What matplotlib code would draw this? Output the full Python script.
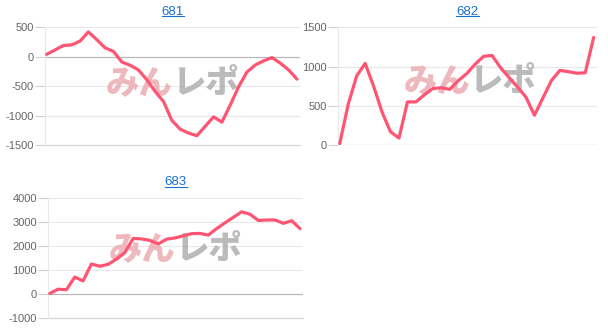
"""Three small balance charts (681/682/683) in the light web-widget style."""

import matplotlib

matplotlib.use("Agg")
import matplotlib.pyplot as plt
import numpy as np

LINE_COLOR = "#ff5573"
TITLE_COLOR = "#1a6fcf"
TICK_COLOR = "#666666"
GRID_COLOR = "#e8e8e8"
ZERO_COLOR = "#b8b8b8"

titles = ["681", "682", "683"]

values_681 = [40, 114, 190, 200, 265, 420, 290, 150, 90, -90, -145, -225, -390,
              -590, -760, -1080, -1230, -1295, -1340, -1180, -1020, -1110, -820,
              -510, -260, -140, -70, -15, -110, -225, -380]
values_682 = [20, 520, 880, 1040, 750, 420, 170, 90, 550, 550, 640, 720, 730,
              710, 820, 910, 1030, 1130, 1140, 985, 860, 740, 610, 380, 600, 820,
              950, 935, 915, 920, 1370]
values_683 = [14, 195, 170, 700, 540, 1245, 1150, 1230, 1450, 1720, 2310, 2290,
              2230, 2080, 2280, 2330, 2420, 2510, 2520, 2450, 2720, 2960, 3190,
              3420, 3320, 3060, 3080, 3080, 2940, 3050, 2715]

yticks_681 = [-1500, -1000, -500, 0, 500]
yticks_682 = [0, 500, 1000, 1500]
yticks_683 = [-1000, 0, 1000, 2000, 3000, 4000]

# left, bottom, width, height in figure fractions (608x336 px)
PANELS = [
    (values_681, yticks_681, (0.074, 0.568, 0.420, 0.351), 0.49, 0.53),
    (values_682, yticks_682, (0.556, 0.568, 0.426, 0.351), 0.50, 0.55),
    (values_683, yticks_683, (0.079, 0.054, 0.420, 0.357), 0.49, 0.58),
]

plt.rcParams["font.family"] = ["Liberation Sans", "DejaVu Sans"]

fig = plt.figure(figsize=(6.08, 3.36), dpi=100, facecolor="white")

for title, (vals, ticks, rect, wx, wy) in zip(titles, PANELS):
    ax = fig.add_axes(rect)
    x = np.arange(len(vals))
    ax.set_xlim(-0.2, len(vals) - 0.6)
    ax.set_ylim(ticks[0], ticks[-1])
    ax.set_yticks(ticks)
    ax.set_yticklabels([str(t) for t in ticks])
    ax.set_xticks([])
    for s in ("top", "right", "bottom"):
        ax.spines[s].set_visible(False)
    ax.spines["left"].set_color(GRID_COLOR)
    ax.tick_params(axis="y", colors="#d0d0d0", labelcolor=TICK_COLOR,
                   labelsize=8, length=7, width=0.8, pad=1)
    for t in ticks:
        if t == 0:
            ax.axhline(0, color=ZERO_COLOR, lw=0.9, zorder=1)
        elif t == ticks[0]:
            ax.axhline(t, color="#d6d6d6", lw=0.9, zorder=1, clip_on=False)
        else:
            ax.axhline(t, color=GRID_COLOR, lw=0.8, zorder=1)

    # watermark
    ax.text(wx + 0.01, wy, "みん", transform=ax.transAxes, ha="right", va="center",
            fontsize=24, fontweight="heavy", color="#eaa8ae", alpha=0.8,
            family=["Noto Sans CJK JP", "DejaVu Sans"], zorder=2)
    ax.text(wx + 0.01, wy, "レポ", transform=ax.transAxes, ha="left", va="center",
            fontsize=24, fontweight="heavy", color="#aaaaaa", alpha=0.8,
            family=["Noto Sans CJK JP", "DejaVu Sans"], zorder=2)

    ax.plot(x, vals, color=LINE_COLOR, lw=2.3, solid_joinstyle="round",
            solid_capstyle="round", zorder=3)

    ax.text(0.5, 1.08, title, transform=ax.transAxes, ha="center", va="bottom",
            fontsize=9.5, color=TITLE_COLOR)
    ttl = ax.texts[-1]
    # underline the link-style title
    fig.canvas.draw()
    bb = ttl.get_window_extent().transformed(fig.transFigure.inverted())
    fig.add_artist(plt.Line2D([bb.x0, bb.x1], [bb.y0 + 0.004, bb.y0 + 0.004],
                              color=TITLE_COLOR, lw=0.8))

fig.savefig("out.png", dpi=100, facecolor="white")
